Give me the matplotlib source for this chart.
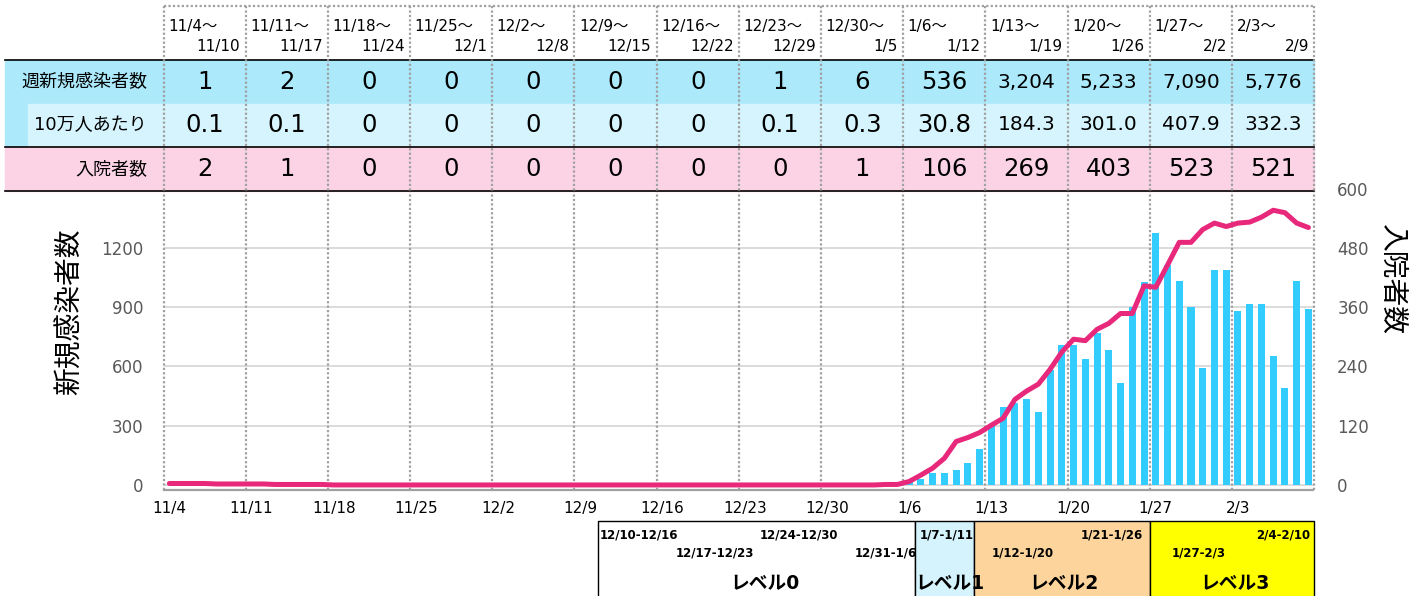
#!/usr/bin/env python3
"""
Weekly table + daily new cases (bars) and hospitalised (line), with level band below.
"""
import matplotlib
matplotlib.use('Agg')
import matplotlib.pyplot as plt
from matplotlib.patches import Rectangle
import numpy as np
from datetime import date

plt.rcParams['font.family'] = ['DejaVu Sans', 'Noto Sans CJK JP']

# ---------------- data ----------------
week_starts = ['11/4', '11/11', '11/18', '11/25', '12/2', '12/9', '12/16',
               '12/23', '12/30', '1/6', '1/13', '1/20', '1/27', '2/3']
week_ends = ['11/10', '11/17', '11/24', '12/1', '12/8', '12/15', '12/22',
             '12/29', '1/5', '1/12', '1/19', '1/26', '2/2', '2/9']
weekly_cases = ['1', '2', '0', '0', '0', '0', '0', '1', '6',
                '536', '3,204', '5,233', '7,090', '5,776']
weekly_per100k = ['0.1', '0.1', '0', '0', '0', '0', '0', '0.1', '0.3',
                  '30.8', '184.3', '301.0', '407.9', '332.3']
weekly_hosp = ['2', '1', '0', '0', '0', '0', '0', '0', '1',
               '106', '269', '403', '523', '521']
row_labels = ['週新規感染者数', '10万人あたり', '入院者数']

# daily new cases, 11/4 .. 2/9 (one row per week)
daily_cases = [
    0, 1, 0, 0, 0, 0, 0,
    0, 1, 0, 0, 1, 0, 0,
    0, 0, 0, 0, 0, 0, 0,
    0, 0, 0, 0, 0, 0, 0,
    0, 0, 0, 0, 0, 0, 0,
    0, 0, 0, 0, 0, 0, 0,
    0, 0, 0, 0, 0, 0, 0,
    0, 0, 0, 0, 1, 0, 0,
    0, 1, 0, 0, 1, 2, 2,
    20, 30, 58, 60, 76, 110, 182,
    300, 392, 416, 436, 370, 580, 710,
    707, 637, 767, 683, 514, 899, 1026,
    1276, 1115, 1034, 899, 590, 1088, 1088,
    882, 914, 917, 653, 491, 1030, 889,
]

# daily hospitalised, 11/4 .. 2/9
daily_hosp = [
    3, 3, 3, 3, 2, 2, 2,
    2, 2, 1, 1, 1, 1, 1,
    0, 0, 0, 0, 0, 0, 0,
    0, 0, 0, 0, 0, 0, 0,
    0, 0, 0, 0, 0, 0, 0,
    0, 0, 0, 0, 0, 0, 0,
    0, 0, 0, 0, 0, 0, 0,
    0, 0, 0, 0, 0, 0, 0,
    0, 0, 0, 0, 0, 1, 1,
    7, 20, 34, 54, 88, 96, 106,
    121, 135, 173, 190, 204, 234, 269,
    295, 292, 315, 327, 347, 347, 403,
    400, 445, 491, 491, 517, 530, 523,
    530, 532, 542, 556, 551, 530, 521,
]

levels = ['レベル0', 'レベル1', 'レベル2', 'レベル3']
level_starts = ['12/11', '1/7', '1/12', '1/27']
level_end = '2/10'
periods = ['12/10-12/16', '12/17-12/23', '12/24-12/30', '12/31-1/6',
           '1/7-1/11', '1/12-1/20', '1/21-1/26', '1/27-2/3', '2/4-2/10']


def day_index(md):
    m, d = map(int, md.split('/'))
    y = 2021 if m >= 11 else 2022
    return (date(y, m, d) - date(2021, 11, 4)).days


n_days = len(daily_cases)
x = np.arange(n_days) + 0.5

# ---------------- layout (pixels) ----------------
W, H = 1410, 596
X0, X1 = 163.5, 1314.3          # plot left/right
DAY = (X1 - X0) / n_days


def px2d(px):
    return (px - X0) / DAY


C_ROW1 = '#abe9fb'
C_ROW2 = '#d6f4fd'
C_PINK = '#fbd3e5'
C_BAR = '#33ccff'
C_LINE = '#e8287a'
C_DOT = '#a0a0a0'
C_GRID = '#d9d9d9'
C_TICK = '#595959'
dot = (0, (1, 1))

fig = plt.figure(figsize=(W / 100, H / 100), dpi=100)

# ---------------- main chart ----------------
ax = fig.add_axes([X0 / W, 1 - 489.5 / H, (X1 - X0) / W, (489.5 - 188.5) / H])
ax.set_xlim(0, n_days)
ax.set_ylim(-23, 1500)
ax.bar(x, daily_cases, width=0.6, color=C_BAR, zorder=2)
ax.set_yticks([0, 300, 600, 900, 1200])
ax.yaxis.grid(True, color=C_GRID, lw=1.3, zorder=0)
ax.set_axisbelow(True)
for d in range(0, n_days + 1, 7):
    ax.axvline(d, color=C_DOT, ls=dot, lw=1.6, zorder=2.5, clip_on=False)
ax.set_xticks([day_index(s) + 0.5 for s in week_starts])
ax.set_xticklabels(week_starts, fontsize=11)
ax.tick_params(axis='x', length=0, pad=8)
ax.tick_params(axis='y', length=0, pad=14.5, labelsize=12, labelcolor=C_TICK)
for s in ['top', 'left', 'right']:
    ax.spines[s].set_visible(False)
ax.spines['bottom'].set_linestyle(dot)
ax.spines['bottom'].set_color(C_DOT)
ax.spines['bottom'].set_linewidth(1.6)

ax2 = ax.twinx()
ax2.set_ylim(-9.2, 600)
ax2.plot(x, daily_hosp, color=C_LINE, lw=3.6, solid_capstyle='round',
         solid_joinstyle='round', zorder=3)
ax2.set_yticks([0, 120, 240, 360, 480, 600])
ax2.tick_params(axis='y', length=0, pad=16.5, labelsize=12, labelcolor=C_TICK)
for s in ax2.spines.values():
    s.set_visible(False)

fig.text(70 / W, 1 - 312 / H, '新規感染者数', rotation=90, fontsize=20,
         ha='center', va='center')
fig.text(1392 / W, 1 - 280 / H, '入院者数', rotation=-90, fontsize=20,
         ha='center', va='center')

# ---------------- table ----------------
tab = fig.add_axes([X0 / W, 1 - 191 / H, (X1 - X0) / W, (191 - 5) / H])
tab.set_zorder(5)
tab.set_xlim(0, n_days)
tab.set_ylim(191, 5)
tab.axis('off')
lx = px2d(5)
tab.add_patch(Rectangle((lx, 60), n_days - lx, 44, color=C_ROW1, clip_on=False))
tab.add_patch(Rectangle((lx, 104), px2d(28) - lx, 43, color=C_ROW1, clip_on=False))
tab.add_patch(Rectangle((px2d(28), 104), n_days - px2d(28), 43, color=C_ROW2, clip_on=False))
tab.add_patch(Rectangle((lx, 147), n_days - lx, 44, color=C_PINK, clip_on=False))
for yy in [60, 147, 190.5]:
    tab.plot([lx, n_days], [yy, yy], color='black', lw=1.2, clip_on=False)
tab.plot([0, n_days], [6, 6], color=C_DOT, ls=dot, lw=1.6, clip_on=False)
for d in range(0, n_days + 1, 7):
    tab.plot([d, d], [6, 191], color=C_DOT, ls=dot, lw=1.6, clip_on=False)

row_y = [82, 125, 169]
for lab, yy in zip(row_labels, row_y):
    tab.text(px2d(147), yy, lab, ha='right', va='center', fontsize=13)

for i in range(len(week_starts)):
    tab.text(7 * i + 0.38, 27, week_starts[i] + '～', ha='left', va='center', fontsize=11)
    tab.text(7 * (i + 1) - 0.45, 47, week_ends[i], ha='right', va='center', fontsize=11)
    for vals, yy in zip([weekly_cases, weekly_per100k, weekly_hosp], row_y):
        s = vals[i]
        fs = 17.5 if len(s) <= 4 else 14.5
        tab.text(7 * i + 3.5, yy, s, ha='center', va='center', fontsize=fs)

# ---------------- level band ----------------
lv = fig.add_axes([X0 / W, 0, (X1 - X0) / W, 75 / H])
lv.set_xlim(0, n_days)
lv.set_ylim(75, 0)
lv.axis('off')
level_colors = ['white', '#d5f3fd', '#fdd59c', '#ffff00']
edges = [day_index(s) for s in level_starts] + [day_index(level_end)]
for j in range(len(levels)):
    lv.add_patch(Rectangle((edges[j], 0), edges[j + 1] - edges[j], 80,
                           facecolor=level_colors[j], edgecolor='black', lw=1,
                           clip_on=False))

period_layout = [(600, 14, 'left'), (676, 32, 'left'), (760, 14, 'left'),
                 (917, 32, 'right'), (920, 14, 'left'), (992, 32, 'left'),
                 (1143, 14, 'right'), (1172, 32, 'left'), (1310, 14, 'right')]
for p, (px, py, ha) in zip(periods, period_layout):
    lv.text(px2d(px), py, p, ha=ha, va='center', fontsize=8.5, fontweight='bold')
for lab, px in zip(levels, [765, 950, 1064, 1235]):
    lv.text(px2d(px), 63, lab, ha='center', va='center', fontsize=13.5, fontweight='bold')

fig.savefig('out.png', dpi=100)
print("Saved: out.png")
